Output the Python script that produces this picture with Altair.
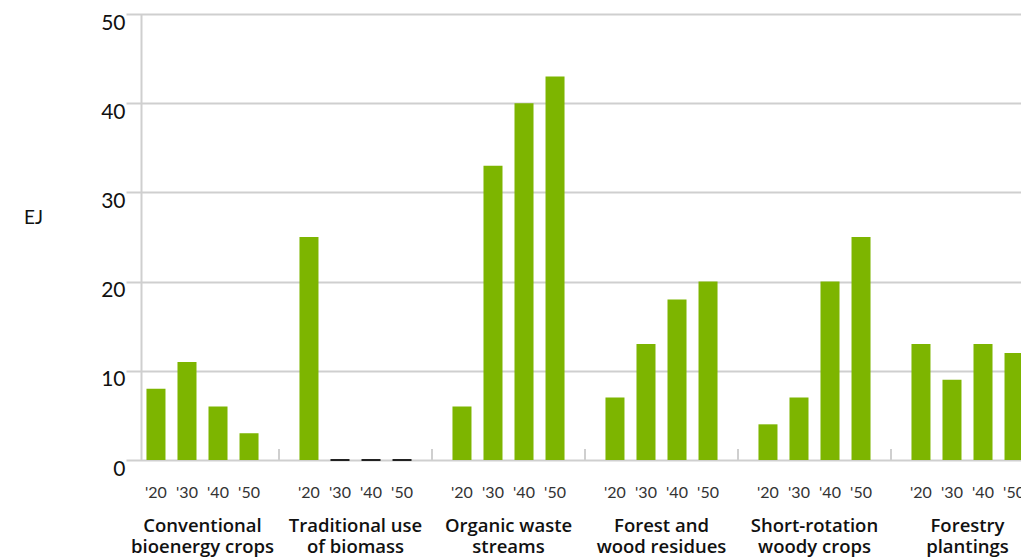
import altair as alt
import pandas as pd

categories = [
    "Conventional\nbioenergy crops",
    "Traditional use\nof biomass",
    "Organic waste\nstreams",
    "Forest and\nwood residues",
    "Short-rotation\nwoody crops",
    "Forestry\nplantings",
]
years = ["'20", "'30", "'40", "'50"]
conventional = [8, 11, 6, 3]
traditional = [25, 0, 0, 0]
organic = [6, 33, 40, 43]
forest = [7, 13, 18, 20]
short_rotation = [4, 7, 20, 25]
forestry = [13, 9, 13, 12]
series = [conventional, traditional, organic, forest, short_rotation, forestry]

rows = []
for cat, vals in zip(categories, series):
    for yr, v in zip(years, vals):
        rows.append({"category": cat, "year": yr, "value": v})
df = pd.DataFrame(rows)
sep_df = pd.DataFrame({"category": categories[1:]})

W = 880
H = 446
GREEN = "#7db500"
GRID = "#cfcfcf"

xscale = alt.Scale(domain=categories, range=[-15, 903], paddingInner=0, paddingOuter=0)
xoff = alt.XOffset("year:N", sort=years,
                   scale=alt.Scale(domain=years, paddingInner=0.387, paddingOuter=0.66))

xaxis = alt.Axis(
    title=None, domain=False, ticks=False, grid=False,
    labelExpr="split(datum.label, '\\n')",
    labelFont="Open Sans", labelFontSize=18.5, labelFontWeight=600,
    labelColor="#111", labelPadding=56, labelBaseline="top",
    labelLineHeight=21, labelAngle=0,
)
yaxis = alt.Axis(
    title="EJ", titleAngle=0, titleX=-108, titleY=203,
    titleAlign="center", titleBaseline="middle",
    titleFont="Lato", titleFontSize=19, titleFontWeight="normal", titleColor="#111",
    values=[0, 10, 20, 30, 40, 50],
    domain=True, domainColor=GRID, domainWidth=2,
    ticks=False, grid=True, gridColor=GRID, gridWidth=2,
    labelFont="Lato", labelFontSize=21, labelColor="#111",
    labelPadding=16, labelOffset=9,
)

bars = alt.Chart(df).transform_filter("datum.value > 0").mark_bar(color=GREEN).encode(
    x=alt.X("category:N", scale=xscale, axis=xaxis, sort=categories),
    xOffset=xoff,
    y=alt.Y("value:Q", scale=alt.Scale(domain=[0, 50], nice=False), axis=yaxis),
)

zeros = alt.Chart(df).transform_filter("datum.value == 0").mark_bar(
    color="#222", stroke="#222", strokeWidth=2
).encode(
    x=alt.X("category:N", scale=xscale, sort=categories),
    xOffset=xoff,
    y=alt.Y("value:Q"),
)

seps = alt.Chart(sep_df).mark_rule(color=GRID, strokeWidth=2).encode(
    x=alt.X("category:N", scale=xscale, sort=categories, bandPosition=0),
    y=alt.value(H - 11),
    y2=alt.value(H),
)

year_text = alt.Chart(df).mark_text(
    font="Lato", fontSize=16, color="#333", baseline="middle", align="center"
).encode(
    x=alt.X("category:N", scale=xscale, sort=categories),
    xOffset=xoff,
    y=alt.value(H + 33),
    text="year:N",
)

chart = alt.layer(bars, zeros, seps, year_text).properties(
    width=W, height=H,
    autosize=alt.AutoSizeParams(type="none"),
    padding={"left": 133, "top": 6, "right": 0, "bottom": 97},
).configure_view(fill="#f7f7f7", strokeWidth=0).configure(background="white")

chart.save("out.html", embed_options={"renderer": "svg", "actions": False})
